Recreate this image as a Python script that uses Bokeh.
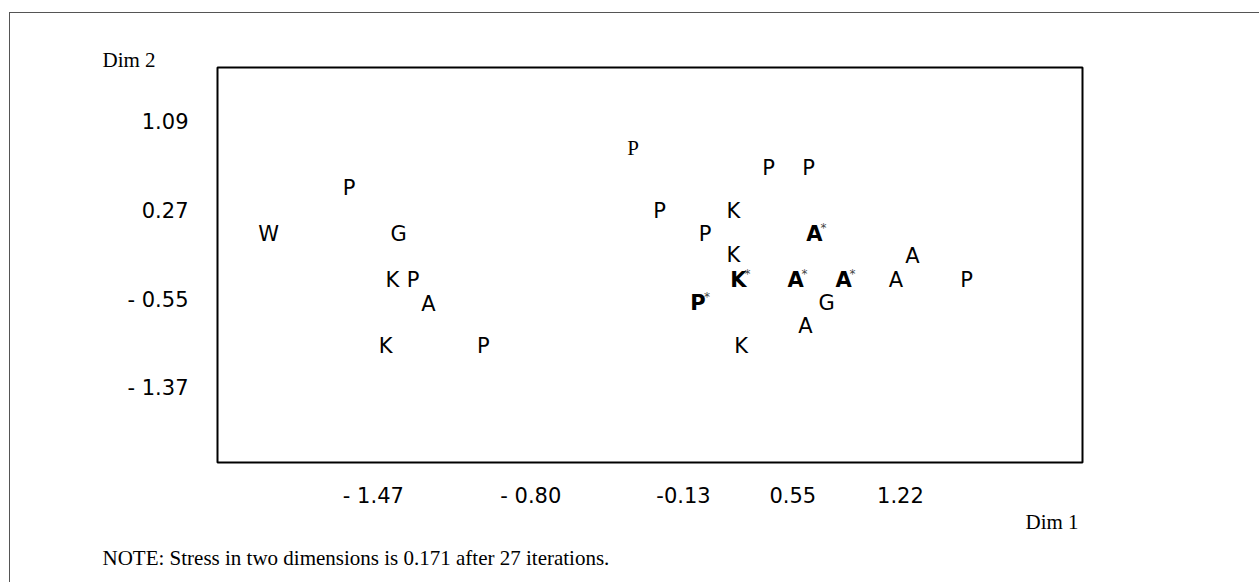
from bokeh.plotting import figure
from bokeh.models import Range1d, FixedTicker, ColumnDataSource, Title
from bokeh.core.properties import value
from bokeh.embed import file_html
from bokeh.resources import INLINE

# ---- data ----
labels = ["P", "P", "P", "P", "P", "K", "W", "G", "P", "A",
          "K", "A", "K", "P", "K", "A", "A", "A", "P", "A",
          "P", "G", "A", "K", "P", "K"]
dim1 = [-0.444, 0.399, 0.648, -2.211, -0.279, 0.181, -2.712, -1.903, 0.004, 0.685,
        0.181, 1.295, -1.941, -1.813, 0.212, 0.567, 0.866, 1.192, 1.631, -1.717,
        -0.040, 0.760, 0.629, -1.984, -1.375, 0.228]
dim2 = [0.854, 0.673, 0.673, 0.479, 0.271, 0.271, 0.053, 0.053, 0.053, 0.053,
        -0.141, -0.146, -0.364, -0.364, -0.364, -0.364, -0.364, -0.364, -0.364, -0.586,
        -0.581, -0.581, -0.792, -0.975, -0.975, -0.981]
starred = [False, False, False, False, False, False, False, False, False, True,
           False, False, False, False, True, True, True, False, False, False,
           True, False, False, False, False, False]
serif_pt = [True] + [False] * 25

x_tick_pos = [-2.06, -1.08, -0.13, 0.55, 1.22]
x_tick_txt = ["- 1.47", "- 0.80", "-0.13", "0.55", "1.22"]
y_tick_pos = [1.09, 0.27, -0.55, -1.37]
y_tick_txt = ["1.09", "0.27", "- 0.55", "- 1.37"]

src = ColumnDataSource(dict(
    x=dim1, y=dim2, lab=labels,
    font=["Liberation Serif" if s else "DejaVu Sans" for s in serif_pt],
    style=["bold" if s else "normal" for s in starred],
    star=["*" if s else "" for s in starred],
))

p = figure(width=1250, height=570, output_backend="svg", toolbar_location=None,
           x_range=Range1d(-3.03, 2.353), y_range=Range1d(-2.058, 1.599),
           min_border_left=207, min_border_right=178,
           min_border_top=54, min_border_bottom=121)
p.background_fill_color = "white"
p.border_fill_color = "white"
p.outline_line_color = "black"
p.outline_line_width = 2
p.xgrid.visible = False
p.ygrid.visible = False
p.styles = {"border-left": "1px solid #555", "border-top": "1px solid #555",
            "margin-left": "9px", "margin-top": "12px"}

for ax in (p.xaxis[0], p.yaxis[0]):
    ax.axis_line_color = None
    ax.major_tick_line_color = None
    ax.minor_tick_line_color = None
    ax.major_label_text_font = "DejaVu Sans"
    ax.major_label_text_font_size = "21px"
    ax.major_label_text_color = "black"

p.xaxis[0].ticker = FixedTicker(ticks=x_tick_pos)
p.xaxis[0].major_label_overrides = {t: s for t, s in zip(x_tick_pos, x_tick_txt)}
p.xaxis[0].major_label_standoff = 15
p.yaxis[0].ticker = FixedTicker(ticks=y_tick_pos)
p.yaxis[0].major_label_overrides = {t: s for t, s in zip(y_tick_pos, y_tick_txt)}
p.yaxis[0].major_label_standoff = 23

p.text(x="x", y="y", text="lab", source=src, text_font="font",
       text_font_style="style", text_font_size=value("21px"),
       text_align="center", text_baseline="middle", text_color="black")
p.text(x="x", y="y", text="star", source=src, text_font=value("DejaVu Sans"),
       text_font_size=value("12px"), text_align="left", text_baseline="middle",
       x_offset=6, y_offset=-6, text_color="#444444")

p.add_layout(Title(text="Dim 2", align="left", offset=-115, standoff=-8,
                   text_font="Liberation Serif", text_font_size="21px",
                   text_font_style="normal", text_color="black"), "above")
p.add_layout(Title(text="Dim 1", align="left", offset=808, standoff=-5,
                   text_font="Liberation Serif", text_font_size="21px",
                   text_font_style="normal", text_color="black"), "below")
p.add_layout(Title(text="NOTE: Stress in two dimensions is 0.171 after 27 iterations.",
                   align="left", offset=-115, standoff=25,
                   text_font="Liberation Serif", text_font_size="21px",
                   text_font_style="normal", text_color="black"), "below")

open("out.html", "w").write(file_html(p, INLINE))
